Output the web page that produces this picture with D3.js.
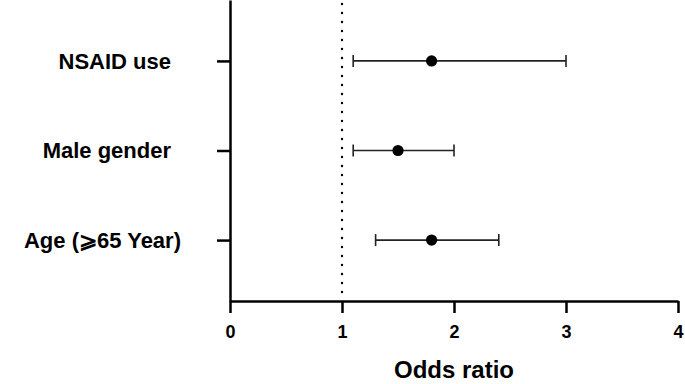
<!DOCTYPE html>
<html>
<head>
<meta charset="utf-8">
<script src="https://cdn.jsdelivr.net/npm/d3@7"></script>
<style>
  body { margin: 0; background: #fff; }
  text { font-family: "Liberation Sans", Arial, sans-serif; font-weight: bold; fill: #000; }
</style>
</head>
<body>
<svg></svg>
<script>
const categories = ["NSAID use", "Male gender", "Age (\u2A7E65 Year)"];
const oddsRatio = [1.8, 1.5, 1.8];
const lowerCI = [1.1, 1.1, 1.3];
const upperCI = [3.0, 2.0, 2.4];
const xTicks = [0, 1, 2, 3, 4];
const refLine = 1;

const svgWidth = 685;
const svgHeight = 384;

const svg = d3.select("svg")
    .attr("width", svgWidth)
    .attr("height", svgHeight);

const margin = {top: 0, right: 7, bottom: 83, left: 230};
const height = 301;

const g = svg.append("g").attr("transform", "translate(" + margin.left + "," + margin.top + ")");

const x = d3.scaleLinear().domain([0, 4]).range([0, 448]);
const y = d3.scalePoint().domain(categories).range([0, height]).padding(0.68);

const data = categories.map((c, i) => ({name: c, or: oddsRatio[i], lo: lowerCI[i], hi: upperCI[i]}));

// reference line at OR = 1
g.append("line")
    .attr("x1", x(refLine)).attr("x2", x(refLine))
    .attr("y1", 4).attr("y2", height)
    .attr("stroke", "#000")
    .attr("stroke-width", 2.4)
    .attr("stroke-linecap", "round")
    .attr("stroke-dasharray", "0,9");

// x axis
const xAxis = g.append("g")
    .attr("transform", "translate(0," + height + ")")
    .call(d3.axisBottom(x).tickValues(xTicks).tickFormat(d3.format("d"))
        .tickSize(12).tickSizeOuter(0).tickPadding(12));
xAxis.select(".domain").attr("stroke-width", 2.5);
xAxis.selectAll(".tick line").attr("stroke-width", 2.5);
xAxis.selectAll(".tick text").attr("font-size", 18).attr("font-family", null);

// y axis
const yAxis = g.append("g")
    .call(d3.axisLeft(y).tickSize(13).tickSizeOuter(0).tickFormat(""));
yAxis.select(".domain").attr("stroke-width", 2.5);
yAxis.selectAll(".tick line").attr("stroke-width", 2.5);

svg.append("g").selectAll("text")
    .data(data)
    .enter().append("text")
    .attr("x", d => d.name.startsWith("Age") ? 181 : 171)
    .attr("y", d => y(d.name) + margin.top)
    .attr("dy", "0.36em")
    .attr("text-anchor", "end")
    .attr("font-size", 22)
    .text(d => d.name);

// error bars
const row = g.selectAll(".row")
    .data(data)
    .enter().append("g")
    .attr("class", "row");

row.append("line")
    .attr("x1", d => x(d.lo)).attr("x2", d => x(d.hi))
    .attr("y1", d => y(d.name)).attr("y2", d => y(d.name))
    .attr("stroke", "#222").attr("stroke-width", 1.6);

row.append("line")
    .attr("x1", d => x(d.lo)).attr("x2", d => x(d.lo))
    .attr("y1", d => y(d.name) - 6).attr("y2", d => y(d.name) + 6)
    .attr("stroke", "#222").attr("stroke-width", 1.6);

row.append("line")
    .attr("x1", d => x(d.hi)).attr("x2", d => x(d.hi))
    .attr("y1", d => y(d.name) - 6).attr("y2", d => y(d.name) + 6)
    .attr("stroke", "#222").attr("stroke-width", 1.6);

row.append("circle")
    .attr("cx", d => x(d.or))
    .attr("cy", d => y(d.name))
    .attr("r", 5.6)
    .attr("fill", "#000");

// axis title
g.append("text")
    .attr("x", x(2))
    .attr("y", 378)
    .attr("text-anchor", "middle")
    .attr("font-size", 24)
    .text("Odds ratio");
</script>
</body>
</html>
